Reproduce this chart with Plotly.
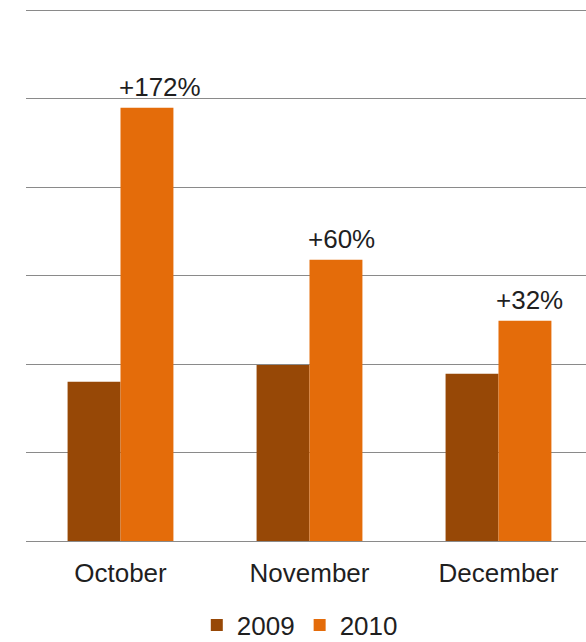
import plotly.graph_objects as go

# Monthly comparison, 2009 vs 2010
months = ["October", "November", "December"]
values_2009 = [1.80, 1.99, 1.89]
values_2010 = [4.90, 3.18, 2.49]
change_labels = ["+172%", "+60%", "+32%"]

FONT = "Liberation Sans, Arial, sans-serif"
TEXT_COLOR = "#1f1f1f"

fig = go.Figure()
fig.add_trace(go.Bar(
    name="2009", x=months, y=values_2009,
    marker=dict(color="#974806", line=dict(width=0)),
))
fig.add_trace(go.Bar(
    name="2010", x=months, y=values_2010,
    marker=dict(color="#E46C0A", line=dict(width=0)),
))

# Percentage-change labels, left-aligned over each 2010 bar
for m, v, lab in zip(months, values_2010, change_labels):
    fig.add_annotation(
        x=m, y=v, xref="x", yref="y", text=lab, showarrow=False,
        xanchor="left", yanchor="bottom", xshift=-4, yshift=4,
        font=dict(family=FONT, size=26, color=TEXT_COLOR),
    )

fig.update_layout(
    width=586, height=642,
    margin=dict(l=26, r=0, t=6, b=101, autoexpand=False),
    paper_bgcolor="white", plot_bgcolor="white",
    barmode="group", bargap=0.44, bargroupgap=0,
    font=dict(family=FONT, size=26, color=TEXT_COLOR),
    showlegend=True,
    legend=dict(
        orientation="h", x=0.305, xanchor="left", y=-0.157, yanchor="middle",
        font=dict(family=FONT, size=26, color=TEXT_COLOR),
        itemwidth=30, traceorder="normal",
    ),
    xaxis=dict(
        range=[-0.5, 2.463], showgrid=False, zeroline=False,
        showline=True, linecolor="#8a8a8a", linewidth=1,
        ticks="", ticklabelstandoff=9,
        tickfont=dict(family=FONT, size=26, color=TEXT_COLOR),
    ),
    yaxis=dict(
        range=[0, 6.05], dtick=1, showticklabels=False,
        showgrid=True, gridcolor="#8a8a8a", gridwidth=1,
        zeroline=False, showline=False,
    ),
)

fig.write_html("out.html")
